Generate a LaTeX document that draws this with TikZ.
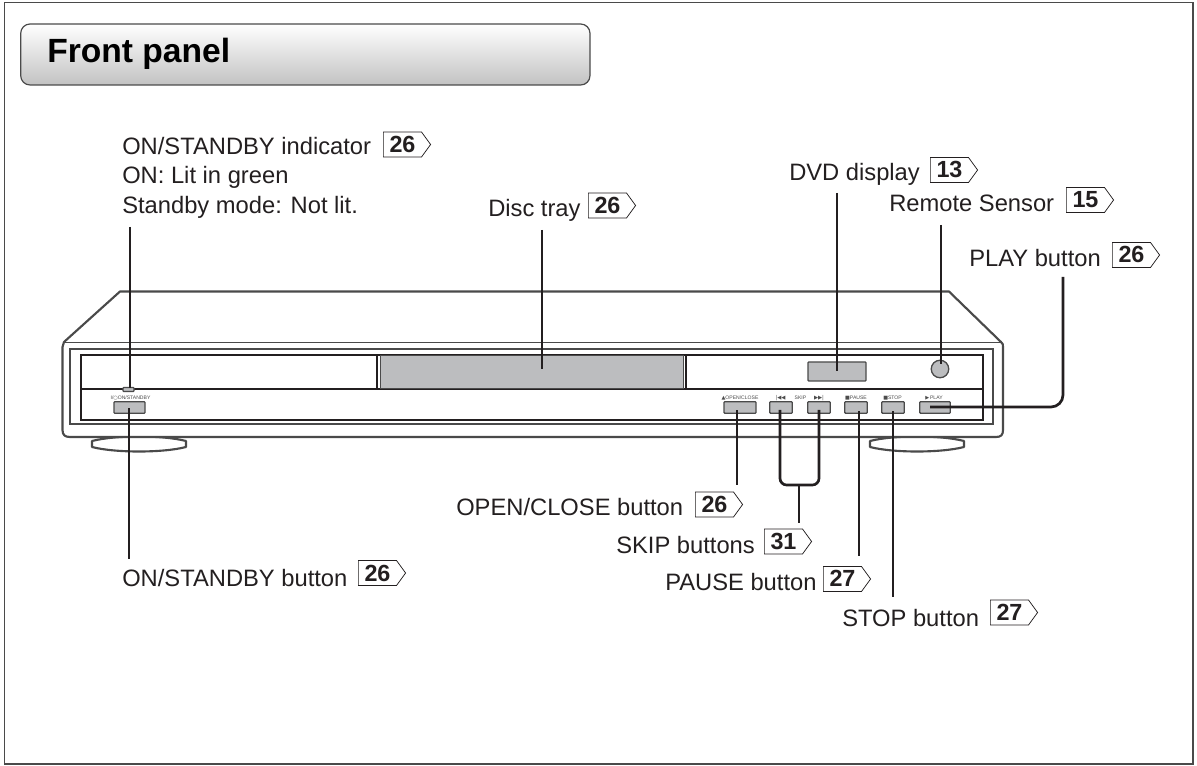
\documentclass[tikz,border=0pt]{standalone}
\usepackage{fontspec}
\setmainfont{Liberation Sans}
\newfontfamily\symf{DejaVu Sans}
\usetikzlibrary{shapes.symbols,calc}
\definecolor{panelgray}{HTML}{BCBDBF}
\definecolor{bodyline}{HTML}{4A4A4A}
\definecolor{ink}{HTML}{231F20}
\tikzset{
  x=0.75pt,y=-0.75pt,
  lbl/.style={font=\fontsize{17.8pt}{20pt}\selectfont,text=ink,anchor=base west,inner sep=0pt},
  badge/.style={shape=signal,signal to=east,signal pointer angle=108,draw=ink,line width=0.55pt,
    font=\fontsize{17.5pt}{20pt}\selectfont\bfseries,text=ink,inner xsep=4.6pt,inner ysep=2pt,
    minimum height=18.6pt,anchor=west,text height=12pt,text depth=0pt},
  leader/.style={draw=ink,line width=2pt},
  body/.style={draw=bodyline,line width=1.6pt,line join=round},
  panel/.style={draw=ink,line width=0.9pt},
  gfill/.style={draw=bodyline,line width=1pt,fill=panelgray,inner sep=0pt,rounded corners=0.6pt},
  tiny/.style={font=\fontsize{3.8pt}{5pt}\selectfont,text=black!70,inner sep=0pt},
}
\newcommand{\gbox}[5]{\node[gfill,minimum width=#4*0.75pt,minimum height=#5*0.75pt] (#1) at (#2,#3) {};}
\begin{document}
\begin{tikzpicture}
\useasboundingbox (0,0) rectangle (1197,766);
\fill[white] (0,0) rectangle (1197,766);
\draw[draw=bodyline,line width=1.1pt] (4.3,2.7) rectangle (1193,764);

% title
\shade[top color=white,middle color=white!94!black,bottom color=black!24,draw=bodyline,line width=0.9pt,rounded corners=7pt]
  (20.7,24) rectangle (590,85);
\node[font=\fontsize{25.2pt}{28pt}\selectfont\bfseries,text=black,anchor=base west,inner sep=0pt] (title) at (47,63) {Front panel};

% feet
\draw[body,fill=white] (92,441) .. controls (115,435) and (163,435) .. (186,441) -- (186,447)
  .. controls (163,453) and (115,453) .. (92,447) -- cycle;
\draw[body,fill=white] (870,441) .. controls (893,435) and (941,435) .. (964,441) -- (964,447)
  .. controls (941,453) and (893,453) .. (870,447) -- cycle;

% body
\draw[body,fill=white] (120,291.5) -- (949,291.5) -- (1001,342) .. controls (1003,344) .. (1003,347)
  -- (1003,430) .. controls (1003,435) and (1001,437) .. (996,437) -- (70,437)
  .. controls (65,437) and (62.5,435) .. (62.5,430) -- (62.5,347) .. controls (62.5,344) .. (64,342) -- cycle;
\draw[draw=bodyline,line width=1.1pt] (64,342.5) -- (1001,342.5);
\draw[draw=bodyline,line width=0.9pt] (70,349) rectangle (993,424);
\draw[panel] (81,355) rectangle (983,420);
\draw[draw=ink,line width=1.3pt] (81,389) -- (983,389);
\draw[panel,fill=white] (81,355) rectangle (377,388.5);
\draw[panel,fill=white] (686,355) rectangle (983,388.5);
\node[gfill,rounded corners=0pt,minimum width=303*0.75pt,minimum height=33*0.75pt] (tray) at (532,372) {};
\gbox{display}{837}{371.5}{58}{19}
\node[draw=bodyline,line width=1pt,fill=panelgray,circle,minimum size=17.5*0.75pt,inner sep=0pt] (sensor) at (940,369) {};
\gbox{indicator}{128.5}{389.5}{11}{4}

% buttons
\gbox{bstandby}{129.5}{407.5}{31}{11.5}
\gbox{bopen}{740}{407.5}{32}{11.5}
\gbox{bprev}{781}{407.5}{22.5}{11.5}
\gbox{bnext}{819}{407.5}{22.5}{11.5}
\gbox{bpause}{856}{407.5}{22.5}{11.5}
\gbox{bstop}{893}{407.5}{22.5}{11.5}
\gbox{bplay}{935}{407.5}{30.5}{11.5}

% button captions
\node[tiny] (c1) at (130.5,398) {I/{\symf ○}ON/STANDBY};
\node[tiny] (c2) at (740,398) {{\symf ▲}OPEN/CLOSE};
\node[tiny] (c3) at (780.5,398) {{\symf\fontsize{4pt}{5pt}\selectfont |◀◀}};
\node[tiny] (c4) at (800.5,398) {SKIP};
\node[tiny] (c5) at (819,398) {{\symf\fontsize{4pt}{5pt}\selectfont ▶▶|}};
\node[tiny] (c6) at (856,398) {{\symf ■}PAUSE};
\node[tiny] (c7) at (892.5,398) {{\symf ■}STOP};
\node[tiny] (c8) at (934,398) {{\symf ▶}\,PLAY};

% labels
\node[lbl] (lind) at (122,155) {ON/STANDBY indicator};
\node[badge] (nind) at (383,144.5) {26};
\node[lbl] (lon) at (122,184) {ON: Lit in green};
\node[lbl] (lst) at (122,214) {Standby mode: Not lit.};
\node[lbl] (ldisc) at (488,217) {Disc tray};
\node[badge] (ndisc) at (588,205.5) {26};
\node[lbl] (ldvd) at (789,181) {DVD display};
\node[badge] (ndvd) at (930,170) {13};
\node[lbl] (lrem) at (889,212) {Remote Sensor};
\node[badge] (nrem) at (1066,200) {15};
\node[lbl] (lplay) at (969,267) {PLAY button};
\node[badge] (nplay) at (1112,255) {26};
\node[lbl] (lopen) at (456,516) {OPEN/CLOSE button};
\node[badge] (nopen) at (695,504.5) {26};
\node[lbl] (lskip) at (616,554) {SKIP buttons};
\node[badge] (nskip) at (764,541.5) {31};
\node[lbl] (lpause) at (665,590) {PAUSE button};
\node[badge] (npause) at (823,579) {27};
\node[lbl] (lstop) at (842,627) {STOP button};
\node[badge] (nstop) at (990,612.5) {27};
\node[lbl] (lbtn) at (122,586) {ON/STANDBY button};
\node[badge] (nbtn) at (358,573) {26};

% leaders
\coordinate (tind) at (130,227);
\coordinate (eind) at (130,388);
\coordinate (tdisc) at (542,230);
\coordinate (edisc) at (542,369);
\coordinate (tdvd) at (837,193);
\coordinate (edvd) at (837,371);
\coordinate (trem) at (941,225);
\coordinate (erem) at (941,364);
\coordinate (tplay) at (1063,277);
\coordinate (eplay) at (930,407);
\coordinate (bend) at (1063,407);
\coordinate (tbtn) at (129,559);
\coordinate (ebtn) at (129,408);
\coordinate (topen) at (737,485);
\coordinate (eopen) at (737,410);
\coordinate (eprev) at (780,410);
\coordinate (enext) at (819,410);
\coordinate (uprev) at (780,485);
\coordinate (unext) at (819,485);
\coordinate (tskipb) at (799,485);
\coordinate (tskip) at (799,523);
\coordinate (tpause) at (859,556);
\coordinate (epause) at (859,411);
\coordinate (tstop) at (893,597);
\coordinate (estop) at (893,411);
\draw[leader] (tind) -- (eind);
\draw[leader] (tdisc) -- (edisc);
\draw[leader] (tdvd) -- (edvd);
\draw[leader] (trem) -- (erem);
\draw[leader,rounded corners=9pt] (tplay) -- (bend) -- (eplay);
\draw[leader] (tbtn) -- (ebtn);
\draw[leader] (topen) -- (eopen);
\draw[leader,rounded corners=5pt] (eprev) -- (uprev) -- (unext) -- (enext);
\draw[leader] (tskipb) -- (tskip);
\draw[leader] (tpause) -- (epause);
\draw[leader] (tstop) -- (estop);
\end{tikzpicture}
\end{document}
